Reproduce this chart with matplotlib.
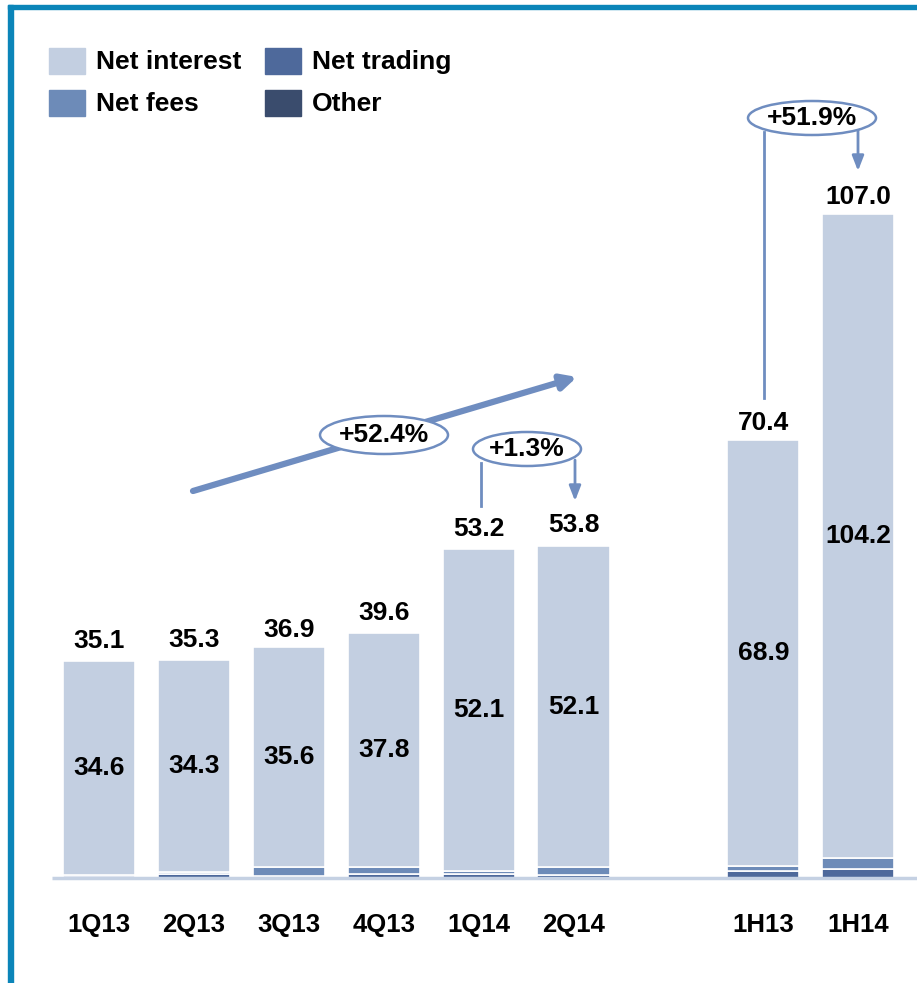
import numpy as np
import matplotlib
matplotlib.use('Agg')
from matplotlib import pyplot as plt
from matplotlib.patches import Ellipse, Rectangle

periods = ['1Q13', '2Q13', '3Q13', '4Q13', '1Q14', '2Q14', '1H13', '1H14']
positions = [0, 1, 2, 3, 4, 5, 7, 8]
net_interest = [34.6, 34.3, 35.6, 37.8, 52.1, 52.1, 68.9, 104.2]
net_fees = [0.3, 0.4, 1.3, 1.2, 0.5, 1.2, 0.7, 1.8]
net_trading = [0.2, 0.6, 0.4, 0.6, 0.6, 0.5, 1.2, 1.4]
other = [0.0, 0.0, -0.4, 0.0, 0.0, 0.0, -0.4, -0.4]
totals = [35.1, 35.3, 36.9, 39.6, 53.2, 53.8, 70.4, 107.0]
growth_labels = ['+52.4%', '+1.3%', '+51.9%']

c_ni = '#c3cfe1'
c_fees = '#6d8bb8'
c_trad = '#4e699b'
c_oth = '#3a4c6d'
c_arrow = '#6f8dc0'
c_frame = '#0b85b9'

W, H = 917, 983
plt.rcParams['font.family'] = ['Liberation Sans', 'DejaVu Sans']
fig = plt.figure(figsize=(W / 100, H / 100), dpi=100)
ax = fig.add_axes([0, 0, 1, 1])

# pixel layout: baseline at y=878, 6.18 px per unit, bar spacing 94.9 px
y0_px, ppu = 878, 6.18
x0_px, ppx = 99, 94.9
ax.set_ylim(-(H - y0_px) / ppu, y0_px / ppu)
ax.set_xlim(-x0_px / ppx, (W - x0_px) / ppx)
ax.axis('off')


def P(xp, yp):
    # pixel -> data
    return (xp - x0_px) / ppx, (y0_px - yp) / ppu


fs = 19
width = 0.76
ni = np.array(net_interest)
fe = np.array(net_fees)
tr = np.array(net_trading)
ot = np.array(other)
ax.bar(positions, tr, width, color=c_trad, edgecolor='white', linewidth=1.2, zorder=2)
ax.bar(positions, fe, width, bottom=tr, color=c_fees, edgecolor='white', linewidth=1.2, zorder=2)
ax.bar(positions, ni, width, bottom=tr + fe, color=c_ni, edgecolor='white', linewidth=1.2, zorder=2)
ax.bar(positions, ot, width, color=c_oth, edgecolor='white', linewidth=1.2, zorder=2)

ax.hlines(0, -0.5, ax.get_xlim()[1], color='#c5d1e3', linewidth=2.5, zorder=3)

for p, lab, tot, n, t, f in zip(positions, periods, totals, ni, tr, fe):
    ax.text(p, tot + 1.3, f'{tot:.1f}', ha='center', va='bottom', fontsize=fs, fontweight='bold')
    ax.text(p, t + f + n / 2, f'{n:.1f}', ha='center', va='center', fontsize=fs, fontweight='bold')
    ax.text(p, -7.6, lab, ha='center', va='center', fontsize=18.5, fontweight='bold')

# legend
leg = [('Net interest', c_ni, 49, 61), ('Net trading', c_trad, 265, 61),
       ('Net fees', c_fees, 49, 103), ('Other', c_oth, 265, 103)]
for name, col, xp, yp in leg:
    fig.patches.append(Rectangle((xp / W, 1 - (yp + 13) / H), 36 / W, 26 / H,
                                 transform=fig.transFigure, color=col))
    fig.text((xp + 47) / W, 1 - (yp + 1) / H, name, ha='left', va='center', fontsize=fs, fontweight='bold')

# big trend arrow
ax.annotate('', xy=P(577, 377), xytext=P(193, 491),
            arrowprops=dict(arrowstyle='-|>,head_length=0.9,head_width=0.45', color=c_arrow, lw=4.5,
                            shrinkA=0, shrinkB=0), zorder=4)


def bubble(cx, cy, w, h, text):
    xc, yc = P(cx, cy)
    e = Ellipse((xc, yc), w / ppx, h / ppu, facecolor='white', edgecolor=c_arrow, linewidth=1.8, zorder=5)
    ax.add_patch(e)
    ax.text(xc, yc, text, ha='center', va='center', fontsize=fs, fontweight='bold', zorder=6)


bubble(384, 435, 128, 38, growth_labels[0])

# +1.3% quarter bracket
ax.plot(*zip(P(481, 463), P(481, 506)), color=c_arrow, lw=2, zorder=4)
ax.annotate('', xy=P(575, 501), xytext=P(575, 460),
            arrowprops=dict(arrowstyle='-|>,head_length=0.9,head_width=0.35', color=c_arrow, lw=2,
                            shrinkA=0, shrinkB=0), zorder=4)
bubble(527, 449, 108, 34, growth_labels[1])

# +51.9% half-year bracket
ax.plot(*zip(P(764, 132), P(764, 398)), color=c_arrow, lw=2, zorder=4)
ax.annotate('', xy=P(858, 171), xytext=P(858, 130),
            arrowprops=dict(arrowstyle='-|>,head_length=0.9,head_width=0.35', color=c_arrow, lw=2,
                            shrinkA=0, shrinkB=0), zorder=4)
bubble(812, 118, 128, 34, growth_labels[2])

# frame
fig.patches.append(Rectangle((8 / W, 1 - 9 / H), 1, 4 / H, transform=fig.transFigure, color=c_frame))
fig.patches.append(Rectangle((8 / W, 0), 4.5 / W, 1 - 5 / H, transform=fig.transFigure, color=c_frame))

fig.savefig('out.png', dpi=100)
